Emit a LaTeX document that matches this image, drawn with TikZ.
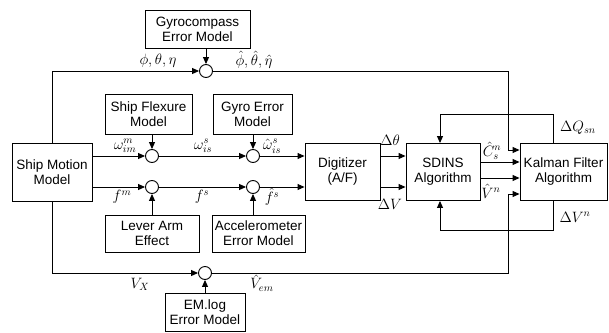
\documentclass[tikz,border=0pt]{standalone}
\usepackage{fix-cm}
\usepackage{fontspec}
\setmainfont{Liberation Sans}
\usetikzlibrary{arrows.meta}
\tikzset{
  blk/.style={draw, align=center, inner sep=1pt, font=\fontsize{13.5}{15}\selectfont},
  sumc/.style={draw, circle, minimum size=13pt, inner sep=0pt},
  arr/.style={-{Triangle[length=7pt,width=6pt]}},
  lbl/.style={inner sep=0pt, font=\fontsize{15}{17}\selectfont}
}
\begin{document}
\begin{tikzpicture}[x=1pt, y=-1pt, line width=0.9pt]
    \useasboundingbox (0,0) rectangle (609,332);
    % blocks
    \node[blk, minimum width=105pt, minimum height=38pt] (gyro) at (197.5,29) {Gyrocompass\\Error Model};
    \node[blk, minimum width=87pt, minimum height=40pt] (flex) at (148.5,114) {Ship Flexure\\Model};
    \node[blk, minimum width=79pt, minimum height=40pt] (gyroerr) at (252.5,114) {Gyro Error\\Model};
    \node[blk, minimum width=80pt, minimum height=58pt] (ship) at (52,172) {Ship Motion\\Model};
    \node[blk, minimum width=75pt, minimum height=57pt] (dig) at (342.5,172) {Digitizer\\(A/F)};
    \node[blk, minimum width=74pt, minimum height=57pt] (sdins) at (443,172) {SDINS\\Algorithm};
    \node[blk, minimum width=87pt, minimum height=57pt] (kf) at (563.5,172) {Kalman Filter\\Algorithm};
    \node[blk, minimum width=94pt, minimum height=37pt] (lever) at (152,233.5) {Lever Arm\\Effect};
    \node[blk, minimum width=93pt, minimum height=37pt] (accel) at (258.5,233.5) {Accelerometer\\Error Model};
    \node[blk, minimum width=80pt, minimum height=38pt] (emlog) at (205,312) {EM.log\\Error Model};
    % summing points
    \node[sumc] (c0) at (206,71) {};
    \node[sumc] (c1) at (152,156) {};
    \node[sumc] (c2) at (253,156) {};
    \node[sumc] (c3) at (152,187) {};
    \node[sumc] (c4) at (253,187) {};
    \node[sumc] (c5) at (205,273) {};
    % bends
    \coordinate (ka) at (508,150);
    \coordinate (kb) at (508,194);
    \coordinate (qa) at (553,114);
    \coordinate (qb) at (440,114);
    \coordinate (va) at (553,230);
    \coordinate (vb) at (440,230);
    \coordinate (sa) at (480,162);
    \coordinate (sb) at (480,178);
    % heading
    \draw[arr] (ship.north) |- (c0);
    \draw[arr] (gyro.south -| c0) -- (c0);
    \draw[arr] (c0) -| (ka) -- (kf.west |- ka);
    % rates
    \draw[arr] (ship.east |- c1) -- (c1);
    \draw[arr] (flex.south -| c1) -- (c1);
    \draw[arr] (c1) -- (c2);
    \draw[arr] (gyroerr.south -| c2) -- (c2);
    \draw[arr] (c2) -- (dig.west |- c2);
    % forces
    \draw[arr] (ship.east |- c3) -- (c3);
    \draw[arr] (lever.north -| c3) -- (c3);
    \draw[arr] (c3) -- (c4);
    \draw[arr] (accel.north -| c4) -- (c4);
    \draw[arr] (c4) -- (dig.west |- c4);
    % digitizer to SDINS to filter
    \draw[arr] (dig.east |- c1) -- (sdins.west |- c1);
    \draw[arr] (dig.east |- c3) -- (sdins.west |- c3);
    \draw[arr] (sdins.east |- sa) -- (kf.west |- sa);
    \draw[arr] (sdins.east |- sb) -- (kf.west |- sb);
    \draw[arr] (kf.north -| qa) -- (qa) -- (qb) -- (sdins.north -| qb);
    \draw[arr] (kf.south -| va) -- (va) -- (vb) -- (sdins.south -| vb);
    % log
    \draw[arr] (ship.south) |- (c5);
    \draw[arr] (emlog.north -| c5) -- (c5);
    \draw[arr] (c5) -| (kb) -- (kf.west |- kb);
    % labels
    \node[lbl] (lphi) at (158,61) {$\phi,\theta,\eta$};
    \node[lbl] (lphih) at (254,60) {$\hat\phi,\hat\theta,\hat\eta$};
    \node[lbl] (lwm) at (125,146) {$\omega_{im}^{m}$};
    \node[lbl] (lws) at (203,146) {$\omega_{is}^{s}$};
    \node[lbl] (lwsh) at (272,146) {$\hat\omega_{is}^{s}$};
    \node[lbl] (lfm) at (122,197) {$f^{m}$};
    \node[lbl] (lfs) at (202,197) {$f^{s}$};
    \node[lbl] (lfsh) at (272,197) {$\hat f^{s}$};
    \node[lbl] (lvx) at (140,284) {$V_X$};
    \node[lbl] (lvem) at (262,283) {$\hat V_{em}$};
    \node[lbl] (ldth) at (390,140) {$\Delta\theta$};
    \node[lbl] (ldv) at (390,204) {$\Delta V$};
    \node[lbl] (lcsn) at (492,151) {$\hat C_s^n$};
    \node[lbl] (lvn) at (491,191) {$\hat V^n$};
    \node[lbl] (ldq) at (578,128) {$\Delta Q_{sn}$};
    \node[lbl] (ldvn) at (575,217) {$\Delta V^n$};
\end{tikzpicture}
\end{document}
